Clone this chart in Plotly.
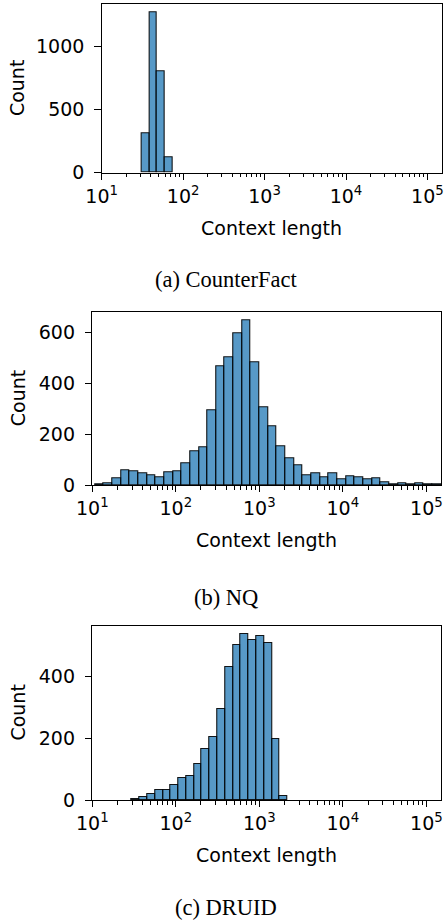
import numpy as np
import plotly.graph_objects as go

# ---------------- data ----------------
# histogram bins are equal-width in log10(context length)
CF_BIN_START = 1.491      # log10 of first bin's left edge
CF_BIN_WIDTH = 0.095
CF_COUNTS = [310, 1272, 804, 119]

NQ_BIN_START = 1.032
NQ_BIN_WIDTH = 0.1036
NQ_COUNTS = [3, 8, 26, 57, 54, 46, 37, 29, 49, 53,
             84, 134, 150, 293, 466, 502, 595, 647, 482, 304,
             231, 152, 105, 77, 39, 46, 31, 47, 24, 34,
             30, 22, 25, 10, 3, 7, 3, 7, 3, 2]

DRUID_BIN_START = 1.472
DRUID_BIN_WIDTH = 0.0932
DRUID_COUNTS = [3, 9, 20, 31, 31, 50, 72, 77, 118, 164,
                205, 295, 431, 500, 536, 519, 529, 508, 197, 12]

X_EXPONENTS = [1, 2, 3, 4, 5]
X_TICK_LABELS = ["10<sup>%d</sup>" % e for e in X_EXPONENTS]
Y_TICKS_A = [0, 500, 1000]
Y_TICKS_B = [0, 200, 400, 600]
Y_TICKS_C = [0, 200, 400]
CAPTIONS = ["(a) CounterFact", "(b) NQ", "(c) DRUID"]
X_LABEL = "Context length"
Y_LABEL = "Count"

# ---------------- layout ----------------
W, H = 446, 924
FONT = "DejaVu Sans"
FS = 19
BAR_FILL = "rgba(31,119,180,0.75)"
BAR_EDGE = "rgba(0,0,0,0.9)"
XMAX = 5.175

# pixel boxes for each axes: (left, right, top, bottom)
BOXES = [(101.7, 441.7, 4.3, 172.7),
         (92.3, 441.0, 312.3, 485.0),
         (92.3, 441.0, 626.0, 800.0)]
CAPTION_Y = [279.5, 597.0, 907.5]

panels = [(CF_BIN_START, CF_BIN_WIDTH, CF_COUNTS, Y_TICKS_A),
          (NQ_BIN_START, NQ_BIN_WIDTH, NQ_COUNTS, Y_TICKS_B),
          (DRUID_BIN_START, DRUID_BIN_WIDTH, DRUID_COUNTS, Y_TICKS_C)]

minor_vals = [np.log10(k * 10.0 ** d) for d in range(1, 5) for k in range(2, 10)]

fig = go.Figure()
annotations = []


def px_x(x):
    return x / W


def px_y(y):
    return 1 - y / H


for i, ((start, width, counts, yt), box) in enumerate(zip(panels, BOXES)):
    n = len(counts)
    edges = start + width * np.arange(n + 1)
    centers = (edges[:-1] + edges[1:]) / 2
    xa = "x" if i == 0 else "x%d" % (i + 1)
    ya = "y" if i == 0 else "y%d" % (i + 1)
    fig.add_trace(go.Bar(
        x=centers, y=counts, width=[width] * n,
        marker=dict(color=BAR_FILL, line=dict(color=BAR_EDGE, width=1.1)),
        xaxis=xa, yaxis=ya, showlegend=False, hoverinfo="x+y"))
    l, r, t, b = box
    ymax = max(counts) * 1.05
    key = "" if i == 0 else str(i + 1)
    fig.layout["xaxis" + key] = dict(
        domain=[px_x(l), px_x(r)], anchor=ya, range=[1, XMAX],
        automargin=False,
        tickmode="array", tickvals=X_EXPONENTS, ticktext=X_TICK_LABELS,
        ticks="outside", ticklen=6, tickwidth=1, tickcolor="black",
        minor=dict(tickmode="array", tickvals=minor_vals, ticks="outside",
                   ticklen=3.5, tickwidth=0.8, tickcolor="black"),
        showline=True, linecolor="black", linewidth=1, mirror=True,
        showgrid=False, zeroline=False,
        tickfont=dict(family=FONT, size=FS, color="black"))
    fig.layout["yaxis" + key] = dict(
        domain=[px_y(b), px_y(t)], anchor=xa, range=[0, ymax],
        automargin=False,
        tickmode="array", tickvals=yt,
        ticks="outside", ticklen=6.5, tickwidth=1, tickcolor="black",
        ticklabelstandoff=6,
        showline=True, linecolor="black", linewidth=1, mirror=True,
        showgrid=False, zeroline=False,
        tickfont=dict(family=FONT, size=FS, color="black"))
    # y label
    annotations.append(dict(
        x=px_x(17.6), y=px_y((t + b) / 2), xref="paper", yref="paper",
        text=Y_LABEL, textangle=-90, showarrow=False,
        xanchor="center", yanchor="middle",
        font=dict(family=FONT, size=FS, color="black")))
    # x label
    annotations.append(dict(
        x=px_x((l + r) / 2), y=px_y(b + 55), xref="paper", yref="paper",
        text=X_LABEL, showarrow=False, xanchor="center", yanchor="middle",
        font=dict(family=FONT, size=FS, color="black")))
    # caption
    annotations.append(dict(
        x=px_x(226.5), y=px_y(CAPTION_Y[i]), xref="paper", yref="paper",
        text=CAPTIONS[i], showarrow=False, xanchor="center", yanchor="middle",
        font=dict(family="Liberation Serif", size=22.5, color="black")))

fig.update_layout(
    width=W, height=H, margin=dict(l=0, r=0, t=0, b=0, autoexpand=False),
    paper_bgcolor="white", plot_bgcolor="white",
    bargap=0, annotations=annotations, showlegend=False)

fig.write_html("out.html")
